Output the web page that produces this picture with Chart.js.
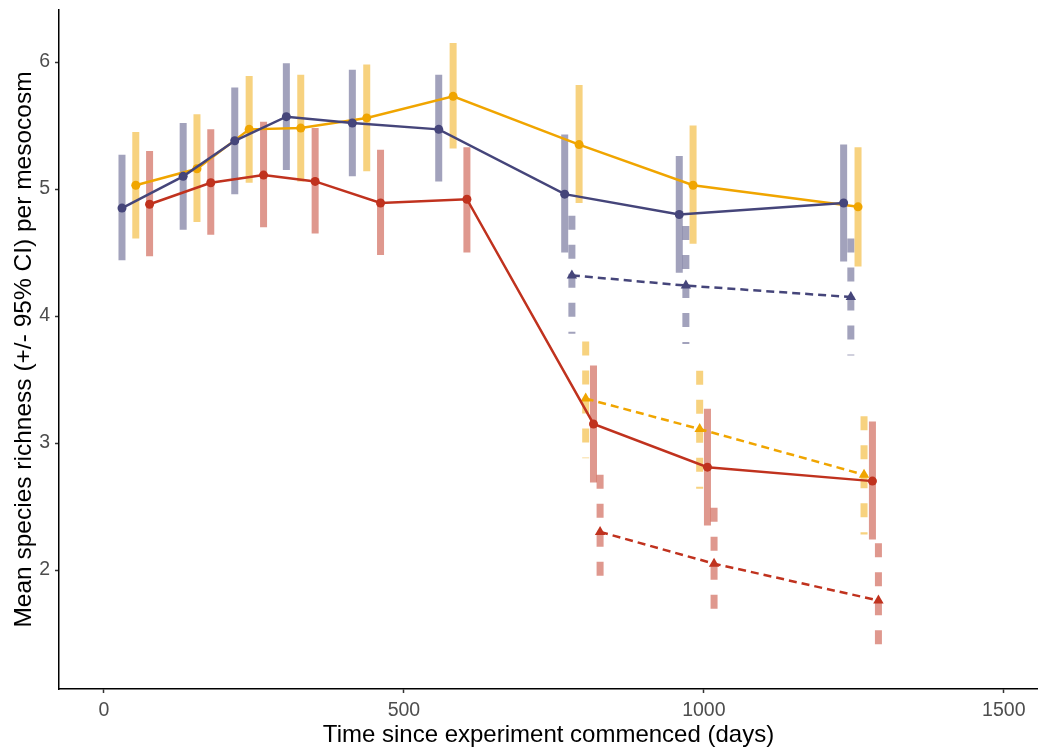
<!DOCTYPE html>
<html>
<head>
<meta charset="utf-8">
<script src="https://cdn.jsdelivr.net/npm/chart.js@4.4.1/dist/chart.umd.min.js"></script>
<style>
  html, body { margin: 0; padding: 0; background: #fff; }
  #wrap { width: 1038px; height: 749px; }
</style>
</head>
<body>
<div id="wrap"><canvas id="chart" width="1038" height="749"></canvas></div>
<script>
// series: days, mean, lower and upper 95% CI
const navyDays = [30, 132, 218, 304, 414, 558, 768, 959, 1233];
const navyMean = [4.85, 5.10, 5.38, 5.57, 5.52, 5.47, 4.96, 4.80, 4.89];
const navyLo   = [4.44, 4.68, 4.96, 5.15, 5.10, 5.06, 4.50, 4.34, 4.43];
const navyHi   = [5.27, 5.52, 5.80, 5.99, 5.94, 5.90, 5.43, 5.26, 5.35];

const orangeDays = [53, 155, 242, 328, 438, 582, 792, 982, 1257];
const orangeMean = [5.03, 5.16, 5.47, 5.48, 5.56, 5.73, 5.35, 5.03, 4.86];
const orangeLo   = [4.61, 4.74, 5.05, 5.06, 5.14, 5.32, 4.89, 4.57, 4.39];
const orangeHi   = [5.45, 5.59, 5.89, 5.90, 5.98, 6.15, 5.82, 5.50, 5.33];

const redDays = [76, 178, 266, 352, 461, 605, 816, 1006, 1281];
const redMean = [4.88, 5.05, 5.11, 5.06, 4.89, 4.92, 3.15, 2.81, 2.70];
const redLo   = [4.47, 4.64, 4.70, 4.65, 4.48, 4.50, 2.69, 2.35, 2.24];
const redHi   = [5.30, 5.47, 5.53, 5.48, 5.31, 5.33, 3.61, 3.27, 3.17];

// dashed (triangle) series
const navy2Days = [780, 970, 1245];
const navy2Mean = [4.32, 4.24, 4.15];
const navy2Lo   = [3.86, 3.78, 3.69];
const navy2Hi   = [4.79, 4.71, 4.61];

const orange2Days = [803, 993, 1267];
const orange2Mean = [3.35, 3.11, 2.75];
const orange2Lo   = [2.88, 2.64, 2.28];
const orange2Hi   = [3.80, 3.57, 3.21];

const red2Days = [827, 1017, 1291];
const red2Mean = [2.30, 2.05, 1.76];
const red2Lo   = [1.84, 1.58, 1.40];
const red2Hi   = [2.75, 2.49, 2.21];

const xTicks = [0, 500, 1000, 1500];
const yTicks = [2, 3, 4, 5, 6];

const NAVY = 'rgb(69, 69, 122)', NAVY_A = 'rgba(69, 69, 122, 0.5)';
const ORANGE = 'rgb(240, 165, 0)', ORANGE_A = 'rgba(240, 165, 0, 0.5)';
const RED = 'rgb(192, 50, 30)', RED_A = 'rgba(192, 50, 30, 0.5)';
const FONT = 'Liberation Sans, Arial, sans-serif';

const pts = (days, vals) => days.map((d, i) => ({ x: d, y: vals[i] }));
// each error bar is a short vertical segment, top to bottom, split by null gaps
const bars = (days, lo, hi) => days.flatMap((d, i) => [
    { x: d, y: hi[i] }, { x: d, y: lo[i] }, { x: d, y: null }
]);

function errSet(days, lo, hi, color, dashed) {
    return {
        data: bars(days, lo, hi),
        borderColor: color,
        borderWidth: 7,
        borderDash: dashed ? [14, 15] : [],
        borderCapStyle: 'butt',
        pointRadius: 0,
        spanGaps: false,
        segment: {},
        order: 3
    };
}

function meanSet(days, vals, color, dashed) {
    return {
        data: pts(days, vals),
        borderColor: color,
        backgroundColor: color,
        borderWidth: 2.5,
        borderDash: dashed ? [8, 5] : [],
        pointStyle: dashed ? 'triangle' : 'circle',
        pointRadius: dashed ? 6 : 4.5,
        pointBorderWidth: 0,
        pointBackgroundColor: color,
        tension: 0,
        order: 1
    };
}

const ctx = document.getElementById('chart');
new Chart(ctx, {
    type: 'line',
    data: {
        datasets: [
            errSet(navyDays, navyLo, navyHi, NAVY_A, false),
            errSet(orangeDays, orangeLo, orangeHi, ORANGE_A, false),
            errSet(redDays, redLo, redHi, RED_A, false),
            errSet(navy2Days, navy2Lo, navy2Hi, NAVY_A, true),
            errSet(orange2Days, orange2Lo, orange2Hi, ORANGE_A, true),
            errSet(red2Days, red2Lo, red2Hi, RED_A, true),
            meanSet(navyDays, navyMean, NAVY, false),
            meanSet(orangeDays, orangeMean, ORANGE, false),
            meanSet(redDays, redMean, RED, false),
            meanSet(navy2Days, navy2Mean, NAVY, true),
            meanSet(orange2Days, orange2Mean, ORANGE, true),
            meanSet(red2Days, red2Mean, RED, true)
        ]
    },
    options: {
        responsive: false,
        animation: false,
        devicePixelRatio: 1,
        layout: { autoPadding: false, padding: { top: 10, right: 0, left: 0, bottom: 0 } },
        plugins: { legend: { display: false }, tooltip: { enabled: false } },
        scales: {
            x: {
                type: 'linear',
                min: -75,
                max: 1557,
                afterFit: s => { s.height = 60; s.paddingLeft = 0; s.paddingRight = 0; },
                afterBuildTicks: s => { s.ticks = xTicks.map(v => ({ value: v })); },
                ticks: {
                    color: '#4d4d4d',
                    padding: 6,
                    callback: v => String(v),
                    font: { family: FONT, size: 19.5 }
                },
                grid: { drawOnChartArea: false, drawTicks: true, tickLength: 4, color: '#333', tickWidth: 1.5 },
                border: { display: true, color: '#000', width: 1.5 },
                title: {
                    display: true,
                    text: 'Time since experiment commenced (days)',
                    color: '#000',
                    padding: { top: 0, bottom: 0 },
                    font: { family: FONT, size: 24, lineHeight: 1.1 }
                }
            },
            y: {
                type: 'linear',
                min: 1.063,
                max: 6.41,
                afterFit: s => { s.width = 59; s.paddingTop = 0; s.paddingBottom = 0; },
                afterBuildTicks: s => { s.ticks = yTicks.map(v => ({ value: v })); },
                ticks: {
                    color: '#4d4d4d',
                    padding: 5,
                    callback: v => String(v),
                    font: { family: FONT, size: 19.5 }
                },
                grid: { drawOnChartArea: false, drawTicks: true, tickLength: 4, color: '#333', tickWidth: 1.5 },
                border: { display: true, color: '#000', width: 1.5 },
                title: {
                    display: true,
                    text: 'Mean species richness (+/- 95% CI) per mesocosm',
                    color: '#000',
                    padding: { top: 10, bottom: 0 },
                    font: { family: FONT, size: 24.5, lineHeight: 1.2 }
                }
            }
        }
    }
});
</script>
</body>
</html>
